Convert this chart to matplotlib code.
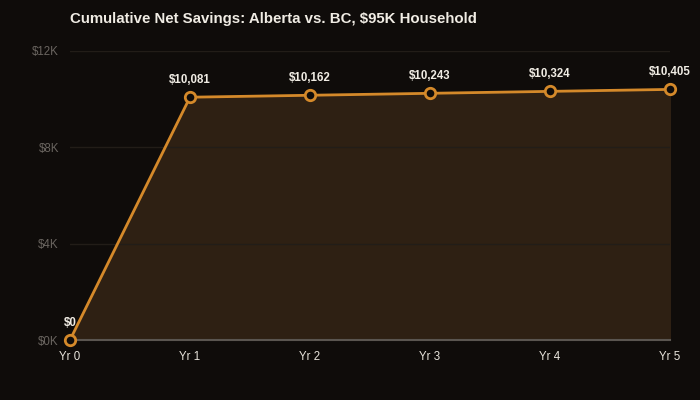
import matplotlib.pyplot as plt

years = ["Yr 0", "Yr 1", "Yr 2", "Yr 3", "Yr 4", "Yr 5"]
savings = [0, 10081, 10162, 10243, 10324, 10405]
yticks = [0, 4000, 8000, 12000]
ytick_labels = ["$0K", "$4K", "$8K", "$12K"]

bg = "#0f0c0a"
orange = "#d4892a"
fill = "#2e2013"

plt.rcParams['font.family'] = ['Liberation Sans', 'DejaVu Sans']

fig = plt.figure(figsize=(7, 4), dpi=100, facecolor=bg)
ax = fig.add_axes([0.1, 0.15, 0.857, 0.7225])
ax.set_facecolor(bg)

x = list(range(len(years)))
ax.fill_between(x, savings, 0, color=fill, zorder=1)
ax.plot(x, savings, color=orange, lw=2, marker='o', ms=7.5,
        mfc=bg, mec=orange, mew=2, zorder=3, clip_on=False)

for i, v in enumerate(savings):
    ax.annotate("${:,}".format(v), (i, v), xytext=(0, 8), textcoords='offset points',
                ha='center', va='bottom', color='#f0ece4', fontsize=8.3, fontweight='bold')

ax.set_xlim(0, len(years) - 1)
ax.set_ylim(0, 12000)
ax.set_xticks(x)
ax.set_xticklabels(years, color='#e8e4dc', fontsize=8.3)
ax.set_yticks(yticks)
ax.set_yticklabels(ytick_labels, color='#6a6560', fontsize=8.3)
ax.tick_params(length=0, pad=8)
ax.grid(axis='y', color='#221d18', lw=1, zorder=0)
for s in ['top', 'right', 'left']:
    ax.spines[s].set_visible(False)
ax.spines['bottom'].set_color('#5a5550')
ax.spines['bottom'].set_linewidth(1.5)
ax.spines['bottom'].set_zorder(2)

fig.text(0.1, 0.953, "Cumulative Net Savings: Alberta vs. BC, $95K Household",
         color='#f0ece4', fontsize=10.8, fontweight='bold', va='center', ha='left')

fig.savefig("out.png", facecolor=bg)
